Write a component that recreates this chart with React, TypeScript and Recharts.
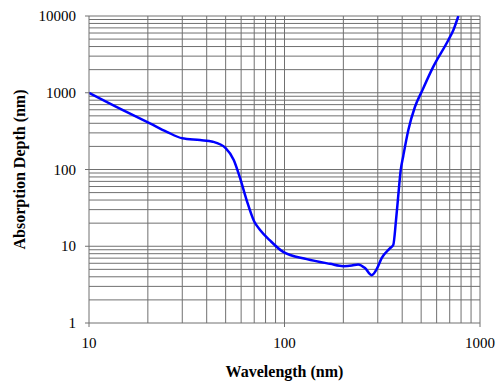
import React from 'react';
import { LineChart, Line, XAxis, YAxis, ReferenceLine, Label } from 'recharts';

// values (log-log)
const wavelength = [
  10, 15, 20.5, 25, 30, 37, 43, 50, 55, 59, 64, 70, 75, 84, 98, 130, 171, 200,
  221, 238, 258, 279, 297, 314, 346, 360, 372, 382, 393, 405, 430, 465,
  503, 577, 689, 731, 775,
];
const depth = [
  1000, 590, 400, 310, 255, 242, 230, 190, 133, 80, 40, 21, 16.3, 12, 8.5, 6.8,
  5.9, 5.5, 5.6, 5.8, 5.2, 4.2, 5.1, 7, 9.4, 10.4, 22, 46, 98, 150, 327,
  657, 1030, 2190, 4860, 6580, 10000,
];

const xTicks = [10, 100, 1000];
const yTicks = [1, 10, 100, 1000, 10000];
const xGrid = [20, 30, 40, 50, 60, 70, 80, 90, 100, 200, 300, 400, 500, 600, 700, 800, 900, 1000];
const yGrid = [
  2, 3, 4, 5, 6, 7, 8, 9, 10, 20, 30, 40, 50, 60, 70, 80, 90, 100, 200, 300,
  400, 500, 600, 700, 800, 900, 1000, 2000, 3000, 4000, 5000, 6000, 7000, 8000,
  9000, 10000,
];

const data = wavelength.map((w, i) => ({ w, d: depth[i] }));

const gridColor = '#707070';
const font = '"Liberation Serif", "Times New Roman", serif';

const XTick = ({ x, y, payload }: any) => (
  <text x={x} y={y + 13} textAnchor="middle" fontFamily={font} fontSize={15} fill="#000">
    {payload.value}
  </text>
);

const YTick = ({ x, y, payload }: any) => (
  <text x={x} y={y + 5} textAnchor="end" fontFamily={font} fontSize={15} fill="#000">
    {payload.value}
  </text>
);

const YTitle = (props: any) => {
  const vb = props.viewBox || {};
  const cy = (vb.y ?? 0) + (vb.height ?? 0) / 2;
  return (
    <text
      x={19}
      y={cy}
      transform={`rotate(-90, 19, ${cy})`}
      textAnchor="middle"
      dominantBaseline="central"
      fontFamily={font}
      fontWeight="bold"
      fontSize={16}
      fill="#000"
    >
      Absorption Depth (nm)
    </text>
  );
};

export default function App() {
  return (
    <div style={{ position: 'absolute', left: 0, top: 0, background: '#fff', fontFamily: font }}>
      <LineChart
        width={496}
        height={381}
        data={data}
        margin={{ top: 16, right: 16, bottom: 0, left: 0 }}
      >
        <XAxis
          dataKey="w"
          type="number"
          scale="log"
          domain={[10, 1000]}
          ticks={xTicks}
          allowDataOverflow
          height={58}
          tickSize={4}
          tickMargin={8}
          stroke={gridColor}
          tick={<XTick />}
        >
          <Label
            value="Wavelength (nm)"
            position="insideBottom"
            offset={4}
            style={{ fontFamily: font, fontWeight: 'bold', fontSize: 16, fill: '#000' }}
          />
        </XAxis>
        <YAxis
          dataKey="d"
          type="number"
          scale="log"
          domain={[1, 10000]}
          ticks={yTicks}
          allowDataOverflow
          width={89}
          tickSize={4}
          tickMargin={9}
          stroke={gridColor}
          tick={<YTick />}
        >
          <Label content={YTitle} />
        </YAxis>
        {xGrid.map((v) => (
          <ReferenceLine key={'x' + v} x={v} stroke={gridColor} strokeWidth={1} />
        ))}
        {yGrid.map((v) => (
          <ReferenceLine key={'y' + v} y={v} stroke={gridColor} strokeWidth={1} />
        ))}
        <Line
          type="monotone"
          dataKey="d"
          stroke="#0000ff"
          strokeWidth={2.5}
          dot={false}
          isAnimationActive={false}
        />
      </LineChart>
    </div>
  );
}
